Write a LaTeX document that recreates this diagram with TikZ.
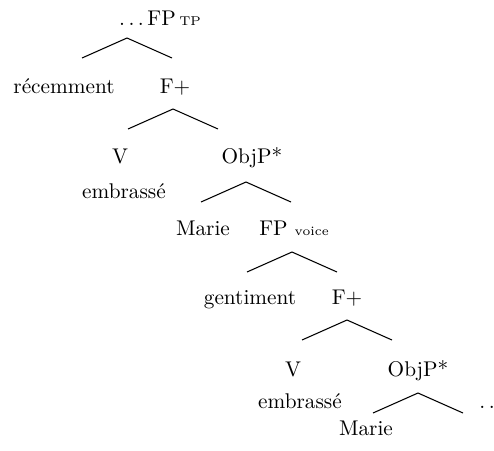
\documentclass[tikz,border=0pt]{standalone}
\usepackage{amsmath}
\usepackage{tikz}
\tikzset{>=latex}
\usetikzlibrary{calc,positioning}
\tikzset{
  lbl/.style={anchor=base, inner sep=0pt},
  branch/.style={black, line width=0.5pt}
}
\newcommand{\subtxt}[1]{{\fontsize{6}{7}\selectfont #1}}

\begin{document}
\begin{tikzpicture}[x=0.47pt,y=-0.47pt]
        \useasboundingbox (0,0) rectangle (494,450);

        % branches
        \foreach \x/\y [count=\i] in {127/38,173/109,246/182,292/252,347/320,418/393}
        {
        \coordinate (top\i) at (\x,\y);
        \coordinate (left\i) at (\x - 45,\y + 20);
        \coordinate (right\i) at (\x + 45,\y + 20);
        \draw[branch] (left\i) -- (top\i) -- (right\i);
        }

        \node[lbl] (fptp) at (160,25) {.\,.\,.\,FP\,\subtxt{TP}};

        \node[lbl] (recemment) at (64,93) {récemment};
        \node[lbl] (fplus1) at (175,93) {F+};

        \node[lbl] (v1) at (120,163) {V};
        \node[lbl] (objp1) at (252,163) {ObjP*};
        \node[lbl] (embrasse1) at (124,198) {embrassé};

        \node[lbl] (marie1) at (203,235) {Marie};
        \node[lbl] (fpvoice) at (294,235) {FP \subtxt{voice}};

        \node[lbl] (gentiment) at (250,304) {gentiment};
        \node[lbl] (fplus2) at (347,304) {F+};

        \node[lbl] (v2) at (293,376) {V};
        \node[lbl] (objp2) at (418,376) {ObjP*};
        \node[lbl] (embrasse2) at (300,408) {embrassé};

        \node[lbl] (marie2) at (366,435) {Marie};
        \node[lbl] (dots) at (487,408) {.\,.};

        \end{tikzpicture}
\end{document}
